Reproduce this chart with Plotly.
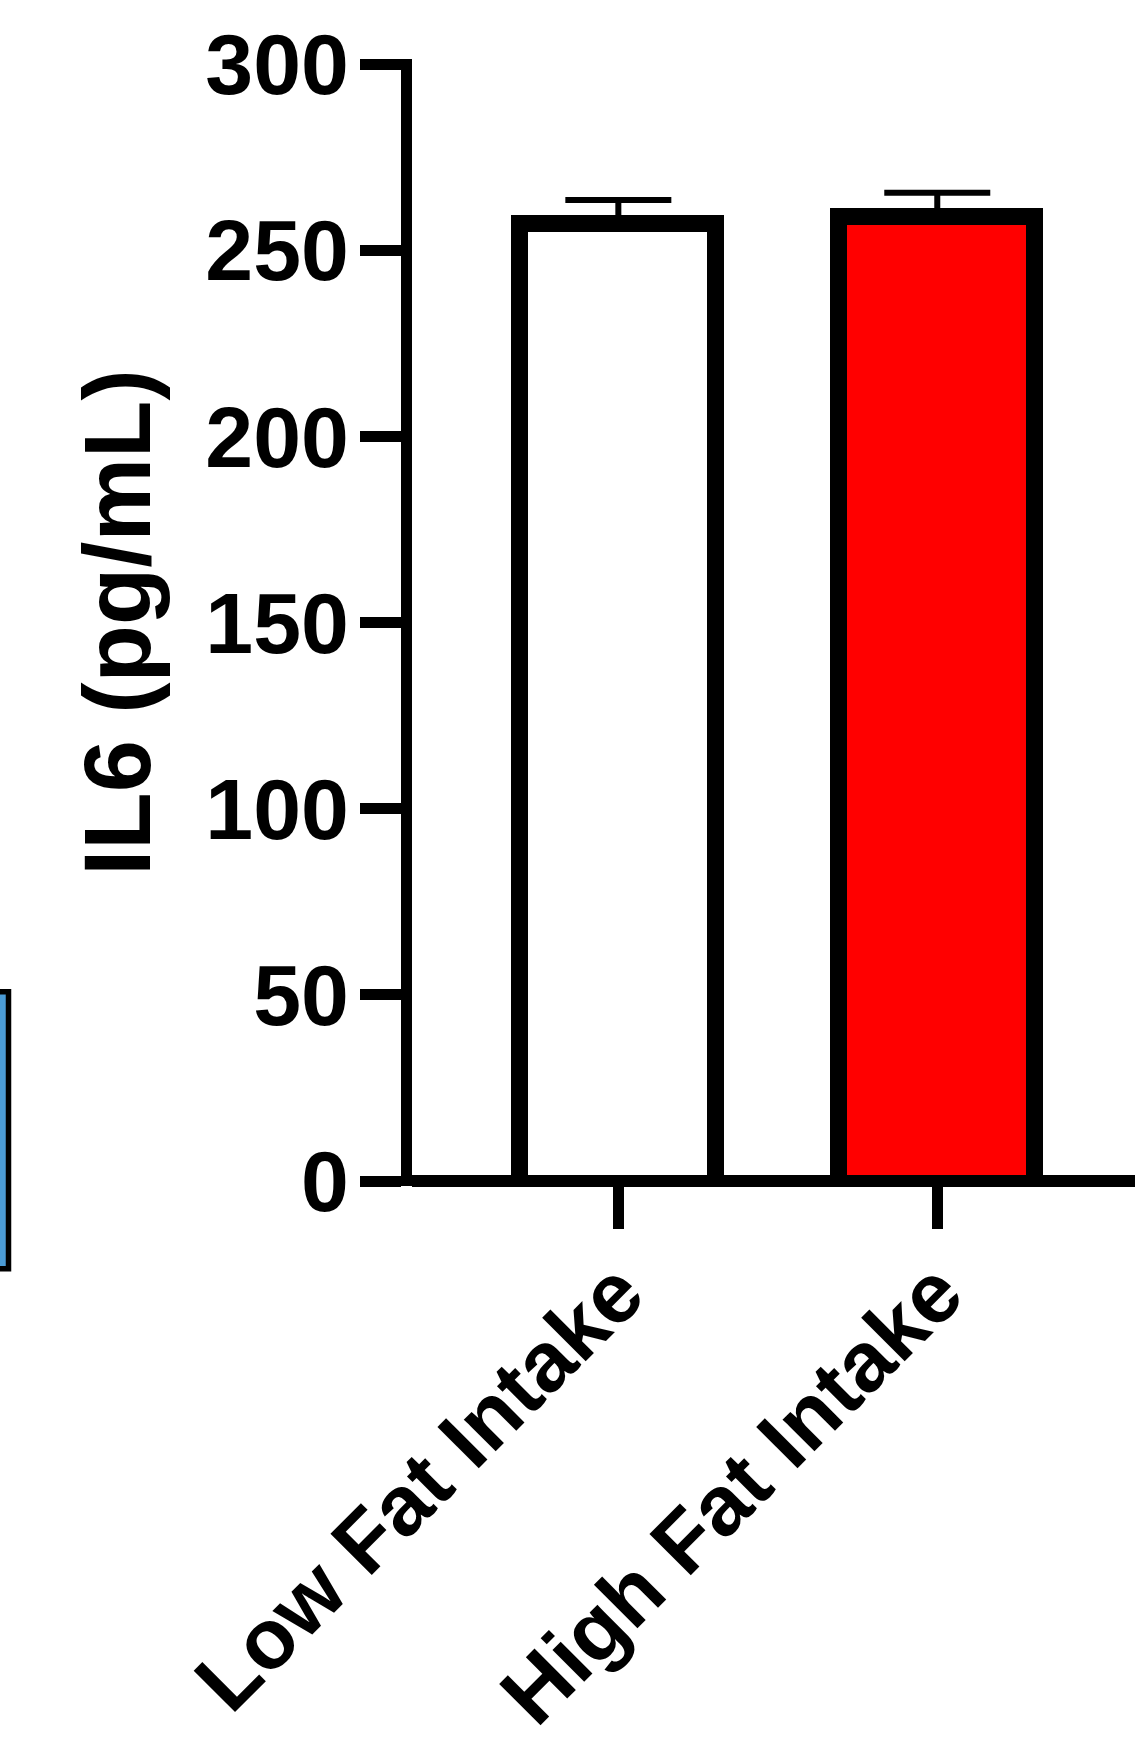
import plotly.graph_objects as go

# ---- data ----
categories = ["Low Fat Intake", "High Fat Intake"]
il6_mean = [257.0, 258.9]
il6_sem = [6.5, 6.6]
bar_colors = ["#FFFFFF", "#FF0000"]
y_ticks = [0, 50, 100, 150, 200, 250, 300]
y_title = "IL6 (pg/mL)"

FONT = "Liberation Sans, Arial, Helvetica, sans-serif"
W, H = 1135, 1748
AX_LW = 11
ZL_LW = 12
BAR_LW = 17
TOP_PX, ZERO_PX = 59.3, 1181.3        # pixel rows of the plot top and of y = 0
Y_MAX = 301.4
px_per_unit = (ZERO_PX - TOP_PX) / Y_MAX
BOTTOM_EXT = 5.0                       # plot bottom a few px below y = 0
Y_MIN = -BOTTOM_EXT / px_per_unit
ML, MR, MT = 412, 0, TOP_PX
MB = H - (ZERO_PX + BOTTOM_EXT)

# bars start a little below zero so that their bottom outline is hidden
# under the axis line (as in the reference, where the fill meets the axis)
base_val = -BAR_LW / px_per_unit
zl_above = True
try:
    go.layout.YAxis(zerolinelayer="above traces")
except Exception:
    zl_above = False
if not zl_above:
    base_val = 0.0

fig = go.Figure()
fig.add_trace(go.Bar(
    x=categories,
    y=[m - base_val for m in il6_mean],
    base=base_val,
    width=0.614,
    marker=dict(color=bar_colors, line=dict(color="black", width=BAR_LW)),
    error_y=dict(type="data", symmetric=False, array=il6_sem,
                 arrayminus=[0] * len(il6_sem),
                 color="black", thickness=6, width=53),
    showlegend=False,
))

fig.update_layout(
    width=W, height=H,
    margin=dict(l=ML, r=MR, t=MT, b=MB, pad=0),
    paper_bgcolor="white", plot_bgcolor="white",
    bargap=0,
    font=dict(family=FONT, color="black"),
    shapes=[
        # fragment of a neighbouring panel cut by the left edge
        dict(type="rect", xref="paper", yref="paper",
             x0=-ML / (W - ML - MR) - 0.02, x1=-(ML - 8.5) / (W - ML - MR),
             y0=(H - MB - 1269) / (H - MT - MB), y1=(H - MB - 992) / (H - MT - MB),
             fillcolor="#4b9bd5", line=dict(color="black", width=5.5), layer="above"),
    ],
)

fig.update_xaxes(
    range=[-0.647, 1.620],
    showline=False, showgrid=False, zeroline=False,
    ticks="outside", ticklen=42, tickwidth=AX_LW, tickcolor="black",
    tickangle=-45,
    ticklabelstandoff=-20,
    tickfont=dict(family=FONT, size=85, color="black", weight="bold"),
    automargin=False,
)
fig.update_yaxes(
    range=[Y_MIN, Y_MAX],
    tickvals=y_ticks, ticktext=[str(v) for v in y_ticks],
    showline=True, linewidth=AX_LW, linecolor="black",
    showgrid=False,
    zeroline=True, zerolinewidth=ZL_LW, zerolinecolor="black",
    ticks="outside", ticklen=41, tickwidth=AX_LW, tickcolor="black",
    ticklabelstandoff=-6,
    tickfont=dict(family=FONT, size=86, color="black", weight="bold"),
    title=dict(text=y_title, standoff=28,
               font=dict(family=FONT, size=94, color="black", weight="bold")),
    automargin=False,
)
if zl_above:
    fig.update_yaxes(zerolinelayer="above traces")

fig.write_html("out.html", config={"displayModeBar": False},
               post_script="document.body.style.margin='0';")
